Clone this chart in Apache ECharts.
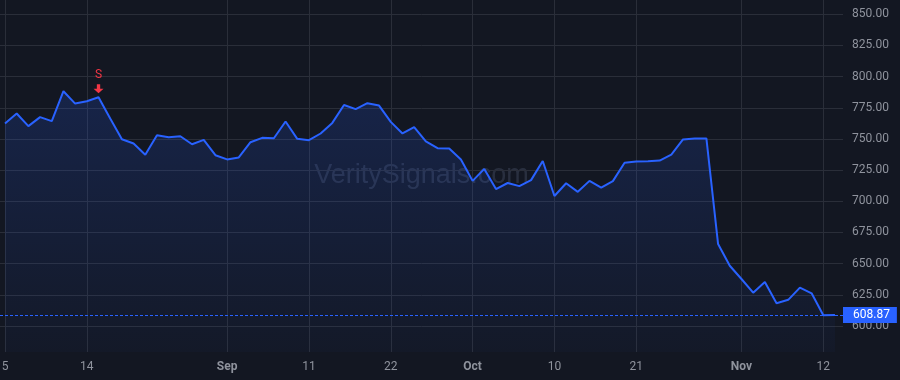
<!DOCTYPE html>
<html>
<head>
<meta charset="utf-8">
<script src="https://cdn.jsdelivr.net/npm/echarts@6/dist/echarts.min.js"></script>
<style>
html,body{margin:0;padding:0;background:#131722;}
#chart{width:900px;height:380px;}
</style>
</head>
<body>
<div id="chart"></div>
<script>
// Trading days (2025)
const dates = [
  'Aug 5','Aug 6','Aug 7','Aug 8','Aug 11','Aug 12','Aug 13','Aug 14','Aug 15',
  'Aug 18','Aug 19','Aug 20','Aug 21','Aug 22','Aug 25','Aug 26','Aug 27','Aug 28','Aug 29',
  'Sep 2','Sep 3','Sep 4','Sep 5','Sep 8','Sep 9','Sep 10','Sep 11','Sep 12',
  'Sep 15','Sep 16','Sep 17','Sep 18','Sep 19','Sep 22','Sep 23','Sep 24','Sep 25','Sep 26','Sep 29','Sep 30',
  'Oct 1','Oct 2','Oct 3','Oct 6','Oct 7','Oct 8','Oct 9','Oct 10','Oct 13','Oct 14','Oct 15','Oct 16','Oct 17',
  'Oct 20','Oct 21','Oct 22','Oct 23','Oct 24','Oct 27','Oct 28','Oct 29','Oct 30','Oct 31',
  'Nov 3','Nov 4','Nov 5','Nov 6','Nov 7','Nov 10','Nov 11','Nov 12','Nov 13'
];
const closes = [
  762.4, 770.4, 760.3, 767.5, 764.3, 788.3, 778.4, 780.3, 783.5,
  766.4, 749.8, 746.4, 737.3, 753.0, 751.4, 752.2, 745.8, 749.3, 737.0,
  733.6, 735.2, 747.4, 750.9, 750.6, 764.0, 750.1, 749.0, 754.4,
  762.9, 777.3, 773.9, 778.7, 776.8, 763.7, 754.4, 759.5, 748.0, 742.6, 742.4, 733.6,
  716.4, 726.0, 709.8, 714.7, 712.2, 717.0, 732.3, 704.3, 714.5, 707.6, 716.4, 710.9, 716.2,
  730.9, 732.0, 732.2, 732.7, 737.5, 749.6, 750.4, 750.4, 665.7, 648.3,
  637.7, 626.7, 635.3, 618.2, 621.0, 630.8, 626.2, 608.6, 608.87
];
// x-axis tick labels: index into dates, text, bold (month start)
const tickIdx   = [0, 7, 19, 26, 33, 40, 47, 54, 63, 70];
const tickText  = ['5', '14', 'Sep', '11', '22', 'Oct', '10', '21', 'Nov', '12'];
const tickBold  = [false, false, true, false, false, true, false, false, true, false];
// signal marker
const signalIdx = 8;
const signalText = 'S';
// y ticks
const yMin = 575, yMax = 850, yStep = 25;
const watermark = 'VeritySignals.com';

const lastVal = closes[closes.length - 1];

// layout constants
const plotRight = 57;         // price scale width
const plotH = 352;            // pane height
const pxPerUnit = 1.2468;     // vertical scale
const y600 = 326;             // pixel of 600
const pxPerBar = 11.69;
const firstX = 5;
const paneW = 900 - plotRight;

const lowB = 600 - (plotH - y600) / pxPerUnit;
const highB = 600 + y600 / pxPerUnit;
const gridATop = y600 - (yMax - 600) * pxPerUnit;
const gridABottom = 380 - (y600 + (600 - yMin) * pxPerUnit);

const gridColor = '#2a2e39';
const textColor = '#8f939d';
const blue = '#2962ff';
const red = '#f23645';

const chart = echarts.init(document.getElementById('chart'), null, {renderer: 'canvas'});
chart.setOption({
  backgroundColor: '#131722',
  animation: false,
  textStyle: {fontFamily: 'Roboto, "Liberation Sans", sans-serif'},
  grid: [
    {left: 0, right: plotRight, top: gridATop, bottom: gridABottom, outerBoundsMode: 'none', containLabel: false},
    {left: 0, right: plotRight, top: 0, height: plotH, outerBoundsMode: 'none', containLabel: false}
  ],
  xAxis: [
    {gridIndex: 0, type: 'value', min: 0, max: 1, show: false},
    {
      gridIndex: 1, type: 'value',
      min: -firstX / pxPerBar, max: (paneW - firstX) / pxPerBar,
      axisLine: {show: false},
      axisTick: {show: false, customValues: tickIdx},
      splitLine: {show: true, lineStyle: {color: gridColor, width: 1}},
      axisLabel: {
        customValues: tickIdx,
        color: textColor, fontSize: 12, margin: 9,
        formatter: function (v) {
          const k = tickIdx.indexOf(Math.round(v));
          if (k < 0) return '';
          return tickBold[k] ? '{b|' + tickText[k] + '}' : tickText[k];
        },
        rich: {b: {fontWeight: 'bold', color: textColor, fontSize: 12}}
      }
    }
  ],
  yAxis: [
    {
      gridIndex: 0, type: 'value', position: 'right',
      min: yMin, max: yMax, interval: yStep,
      axisLine: {show: false}, axisTick: {show: false},
      splitLine: {show: true, showMinLine: false, showMaxLine: true, lineStyle: {color: gridColor, width: 1}},
      axisLabel: {
        color: textColor, fontSize: 12, margin: 9, align: 'left',
        showMinLabel: false, showMaxLabel: true,
        formatter: v => v.toFixed(2)
      }
    },
    {gridIndex: 1, type: 'value', min: lowB, max: highB, show: false}
  ],
  graphic: [{
    type: 'text', z: 0, silent: true,
    x: paneW / 2, y: plotH / 2,
    style: {
      text: watermark, fill: 'rgba(125,135,170,0.22)',
      font: '27px "Liberation Sans", Arial, sans-serif',
      textAlign: 'center', textVerticalAlign: 'middle'
    }
  }],
  series: [{
    type: 'line', xAxisIndex: 1, yAxisIndex: 1,
    data: closes.map((v, i) => [i, v]),
    showSymbol: false, symbol: 'none',
    lineStyle: {color: blue, width: 2},
    itemStyle: {color: blue},
    areaStyle: {
      origin: 'start',
      color: new echarts.graphic.LinearGradient(0, 0, 0, 1, [
        {offset: 0, color: 'rgba(41,98,255,0.25)'},
        {offset: 1, color: 'rgba(41,98,255,0.04)'}
      ])
    },
    markLine: {
      silent: true, symbol: ['none', 'none'],
      lineStyle: {color: blue, width: 1, type: [3, 2]},
      label: {
        show: true, position: 'end', distance: 0,
        formatter: () => lastVal.toFixed(2),
        color: '#ffffff', backgroundColor: blue, fontSize: 12,
        padding: [2, 7, 2, 10], borderRadius: 0
      },
      data: [{yAxis: lastVal}]
    },
    markPoint: {
      silent: true,
      symbol: 'path://M3,0 L6,0 L6,4.5 L9,4.5 L4.5,9 L0,4.5 L3,4.5 Z',
      symbolSize: [10, 9],
      symbolOffset: [0, -8.5],
      itemStyle: {color: red},
      label: {
        show: true, position: 'top', distance: 3,
        formatter: signalText, color: red, fontSize: 12
      },
      data: [{coord: [signalIdx, closes[signalIdx]]}]
    }
  }]
});
</script>
</body>
</html>
